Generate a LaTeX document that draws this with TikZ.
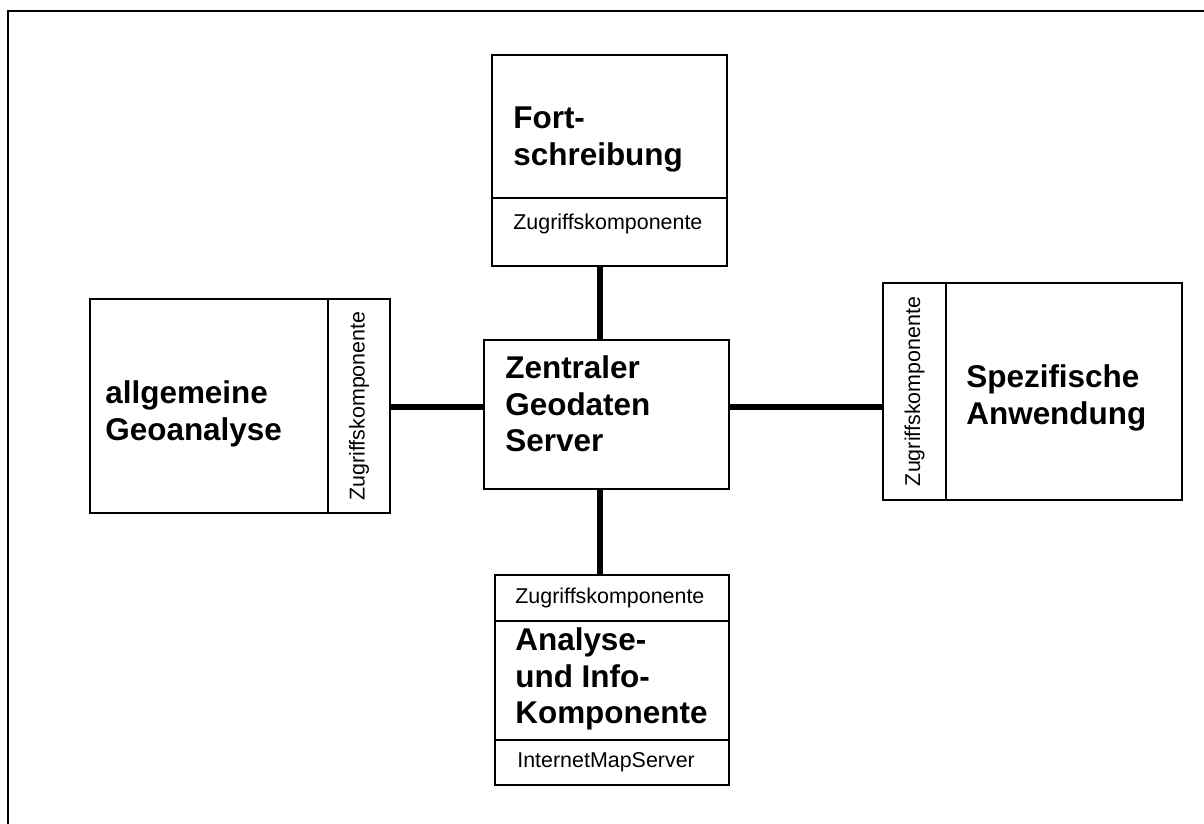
\documentclass[tikz,border=0pt]{standalone}
\usepackage{fontspec}
\setmainfont{Liberation Sans}
\begin{document}
\begin{tikzpicture}[x=0.02cm, y=-0.02cm,
  box/.style={draw, line width=1.1pt, inner sep=0pt, outer sep=0pt},
  titel/.style={anchor=north west, inner sep=0pt, align=left, font=\fontsize{17.9}{21}\selectfont\bfseries},
  zk/.style={anchor=west, inner sep=0pt, font=\fontsize{12.2}{14}\selectfont},
  verb/.style={line width=3pt}]
\useasboundingbox (0,0) rectangle (1204,824);
\draw [line width=1.1pt] (1204,11) -- (8,11) -- (8,824);
\node [box, minimum width=4.7cm, minimum height=2.86cm] (fort) at (609.5,126.5) {};
\node [box, minimum width=4.7cm, minimum height=1.36cm] (fortzk) at (609.5,232) {};
\node [box, minimum width=4.76cm, minimum height=4.28cm] (geo) at (209,406) {};
\node [box, minimum width=1.24cm, minimum height=4.28cm] (geozk) at (359,406) {};
\node [box, minimum width=4.9cm, minimum height=2.98cm] (zentral) at (606.5,414.5) {};
\node [box, minimum width=4.68cm, minimum height=0.92cm] (anazk) at (612,598) {};
\node [box, minimum width=4.68cm, minimum height=2.38cm] (ana) at (612,680.5) {};
\node [box, minimum width=4.68cm, minimum height=0.9cm] (ims) at (612,762.5) {};
\node [box, minimum width=1.26cm, minimum height=4.34cm] (spezzk) at (914.5,391.5) {};
\node [box, minimum width=4.72cm, minimum height=4.34cm] (spez) at (1064,391.5) {};
\node [titel] (fortt) at (513,107) {Fort-\\schreibung};
\node [titel] (geot) at (105,380) {allgemeine\\Geoanalyse};
\node [titel] (zentralt) at (505,355) {Zentraler\\Geodaten\\Server};
\node [titel] (anat) at (515,627) {Analyse-\\und Info-\\Komponente};
\node [titel] (spezt) at (966,364) {Spezifische\\Anwendung};
\node [zk] (fortzkt) at (513,224) {Zugriffskomponente};
\node [zk] (anazkt) at (515,598) {Zugriffskomponente};
\node [zk] (imst) at (517,762) {InternetMapServer};
\node [zk, anchor=center, rotate=90] (geozkt) at (geozk) {Zugriffskomponente};
\node [zk, anchor=center, rotate=90] (spezzkt) at (spezzk) {Zugriffskomponente};
\coordinate (achse) at (600,407);
\draw [verb] (achse |- fortzk.south) -- (achse |- zentral.north);
\draw [verb] (achse |- zentral.south) -- (achse |- anazk.north);
\draw [verb] (geozk.east |- achse) -- (zentral.west |- achse);
\draw [verb] (zentral.east |- achse) -- (spezzk.west |- achse);
\end{tikzpicture}
\end{document}
